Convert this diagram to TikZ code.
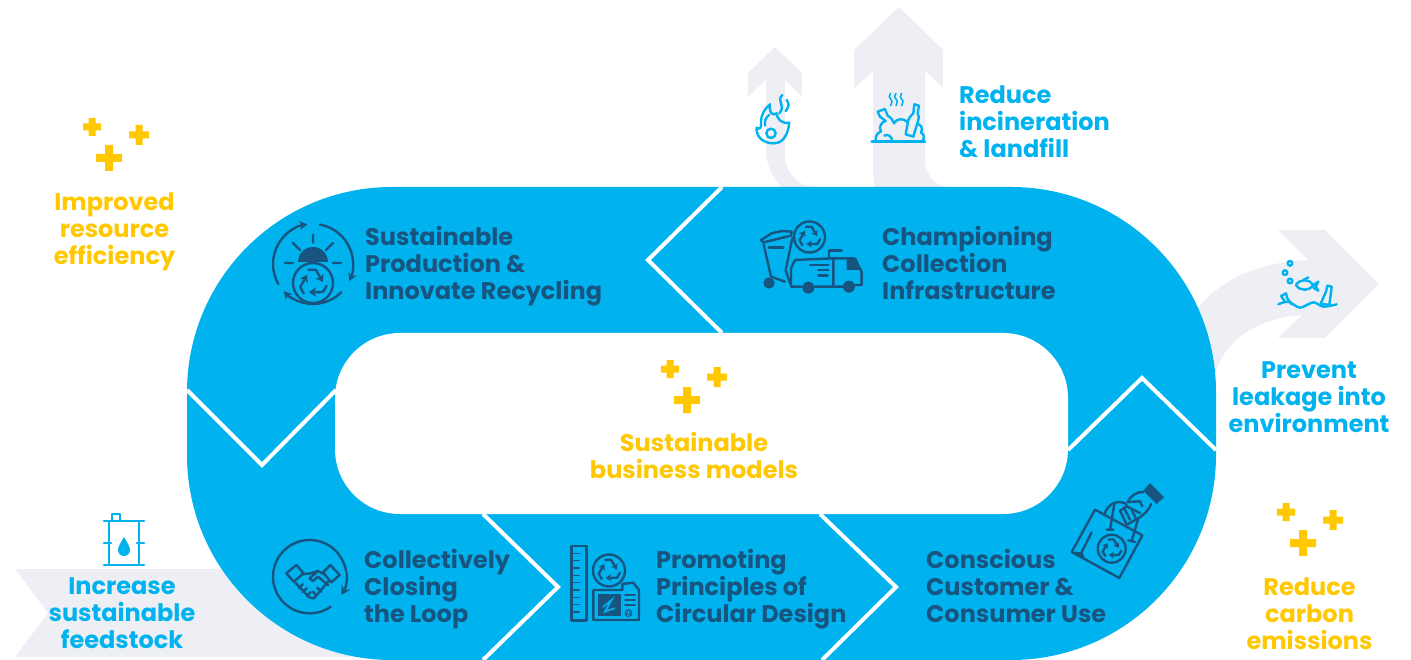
\documentclass[tikz,border=0pt]{standalone}
\usepackage{fontspec}
\setmainfont{Poppins}
\usetikzlibrary{arrows.meta}
\definecolor{loopblue}{RGB}{0,179,238}
\definecolor{inkblue}{RGB}{24,84,128}
\definecolor{sunyellow}{RGB}{255,200,0}
\definecolor{paleflow}{RGB}{238,238,245}
\tikzset{
  steplabel/.style={text=inkblue,anchor=west,align=left,inner sep=0pt,font=\fontsize{24}{27}\selectfont\bfseries},
  bluelabel/.style={text=loopblue,align=center,inner sep=0pt,font=\fontsize{24}{27}\selectfont\bfseries},
  goldlabel/.style={text=sunyellow,align=center,inner sep=0pt,font=\fontsize{24}{27}\selectfont\bfseries},
  inkicon/.style={draw=inkblue,line width=2.4pt,line join=round,line cap=round},
  blueicon/.style={draw=loopblue,line width=2.4pt,line join=round,line cap=round},
  zoomed/.style={shift={#1},scale=.3333},
  pluses/.pic={
    \fill[sunyellow] (-13,-4) rectangle (13,4) (-4,-13) rectangle (4,13);
    \fill[sunyellow] (-26,27.5) rectangle (-8,34.5) (-20.5,22) rectangle (-13.5,40);
    \fill[sunyellow] (20,19.5) rectangle (40,26.5) (26.5,13) rectangle (33.5,33);
  }
}
\newcommand{\recyc}[4]{%
  \begin{scope}[shift={(#1,#2)},scale=#3]
    \pgfmathsetlengthmacro{\tipl}{#3*.36}
    \draw[#4] (0,0) circle (1);
    \foreach \a in {0,120,240}
      \draw[#4,rotate=\a,-{Stealth[length=\tipl,width=1.3*\tipl]}] (-.22,-.66) -- (.14,-.66) -- (.5,-.05);
  \end{scope}}
\begin{document}
\begin{tikzpicture}[x=1pt,y=1pt,yscale=-1]
  \useasboundingbox (0,0) rectangle (1411,660);
  % flows behind the loop
  \fill[paleflow] (775,47) -- (802,73) -- (802,97) -- (785,80) -- (785,157) .. controls (785,172) and (798,186) .. (813,187)
    -- (781,187) .. controls (772,175) and (766,165) .. (766,150) -- (766,80) -- (748,97) -- (748,73) -- cycle;
  \fill[paleflow] (899,7) -- (943,50) -- (943,88) -- (925,71) -- (925,160) .. controls (925,175) and (935,186) .. (950,188)
    -- (875,188) -- (873,170) -- (873,71) -- (854,88) -- (854,50) -- cycle;
  \fill[paleflow] (1278,230) -- (1325,230) -- (1379,284) -- (1325,338) -- (1278,338) -- (1302,315)
    .. controls (1262,318) and (1228,335) .. (1215,373) -- (1198,308) .. controls (1225,275) and (1265,262) .. (1308,260) -- cycle;
  \fill[paleflow] (15,569) -- (360,569) -- (360,657) -- (15,657) -- (48,613) -- cycle;
  % loop
  \fill[loopblue] (392,187) -- (1011,187) arc[start angle=-90,delta angle=90,radius=205] -- (1216,455)
    arc[start angle=0,delta angle=90,radius=205] -- (392,660) arc[start angle=90,delta angle=90,radius=205]
    -- (187,392) arc[start angle=180,delta angle=90,radius=205] -- cycle;
  \fill[white,rounded corners=65pt] (335,333) rectangle (1068,514);
  \draw[white,line width=4pt] (722,187) -- (648,260) -- (722,333);
  \draw[white,line width=4pt] (187,390) -- (262,465) -- (336,390);
  \draw[white,line width=4pt] (483,514) -- (558,587) -- (483,660);
  \draw[white,line width=4pt] (820,514) -- (896,587) -- (822,660);
  \draw[white,line width=4pt] (1068,450) -- (1142,378) -- (1216,450);
  % labels
  \node[steplabel] (production) at (365,266) {Sustainable\\Production \&\\Innovate Recycling};
  \node[steplabel] (collection) at (882,263) {Championing\\Collection\\Infrastructure};
  \node[steplabel] (closing) at (364,589) {Collectively\\Closing\\the Loop};
  \node[steplabel] (design) at (656,589) {Promoting\\Principles of\\Circular Design};
  \node[steplabel] (consumer) at (926,586) {Conscious\\Customer \&\\Consumer Use};
  \node[goldlabel] (efficiency) at (114.5,232) {Improved\\resource\\efficiency};
  \node[goldlabel] (models) at (694,455.5) {Sustainable\\business models};
  \node[goldlabel] (carbon) at (1309.5,613.5) {Reduce\\carbon\\emissions};
  \node[bluelabel] (feedstock) at (122,613.5) {Increase\\sustainable\\feedstock};
  \node[bluelabel] (leakage) at (1309,397.5) {Prevent\\leakage into\\environment};
  \node[bluelabel,anchor=west,align=left] (landfill) at (959,121.5) {Reduce\\incineration\\\& landfill};
  \pic at (109,158) {pluses};
  \pic at (687,400) {pluses};
  \pic at (1303,543) {pluses};
  % flame and landfill
  \begin{scope}[zoomed={(745,85)}]
    \draw[blueicon] (85,175) .. controls (55,175) and (32,155) .. (35,128) .. controls (45,135) and (50,130) .. (48,112)
      .. controls (47,90) and (60,70) .. (75,58) .. controls (72,80) and (80,95) .. (95,85)
      .. controls (95,100) and (110,118) .. (133,113) .. controls (128,150) and (115,175) .. (85,175) -- cycle;
    \draw[blueicon] (78,145) circle (14);
    \draw[blueicon] (60,122) .. controls (58,108) and (62,98) .. (72,90);
    \draw[blueicon] (112,30) .. controls (92,50) and (125,60) .. (103,85);
    \draw[blueicon] (125,45) .. controls (135,58) and (130,68) .. (122,78);
    \draw[blueicon] (380,170) -- (540,170);
    \draw[blueicon] (392,168) .. controls (390,150) and (400,142) .. (408,140) .. controls (400,125) and (410,110) .. (422,108)
      -- (405,95) -- (398,80) -- (420,72) -- (428,92) .. controls (440,98) and (445,110) .. (447,115)
      .. controls (455,100) and (475,98) .. (488,112);
    \draw[blueicon] (508,58) -- (522,62) -- (518,85) .. controls (522,92) and (522,98) .. (520,105) -- (505,155) -- (482,148)
      -- (490,105) .. controls (492,98) and (498,92) .. (505,85) -- cycle;
    \draw[blueicon] (522,118) .. controls (535,125) and (530,140) .. (528,142) .. controls (540,150) and (538,162) .. (532,168);
    \draw[blueicon] (418,152) .. controls (430,145) and (440,155) .. (442,168);
    \foreach \x in {437,453,470}
      \draw[blueicon,line width=1.6pt] plot[smooth] coordinates {(\x,25) (\x-4,36) (\x+4,48) (\x,62)};
  \end{scope}
  % truck and bin
  \begin{scope}[zoomed={(755,215)}]
    \draw[inkicon] (18,75) -- (50,55) -- (80,48) -- (110,50) -- (108,62) -- (25,82) -- cycle;
    \draw[inkicon] (26,88) -- (48,185) -- (90,200) (112,70) -- (92,165) -- (105,205);
    \draw[inkicon] (42,98) -- (85,98);
    \fill[inkblue] (42,204) circle (17);
    \draw[inkicon] (120,135) -- (235,130) -- (235,215) -- (180,215) (120,135) -- (108,160) -- (108,215) -- (140,215);
    \draw[inkicon] (235,130) -- (295,130) -- (320,170) -- (320,210) -- (300,210) (265,215) -- (235,215);
    \draw[inkicon] (222,107) -- (260,107) (222,107) -- (222,130);
    \fill[inkblue] (275,128) -- (303,128) -- (320,165) -- (275,165) -- cycle;
    \fill[inkblue] (160,218) circle (18) (282,215) circle (18);
    \draw[inkicon] (165,150) -- (220,150) (190,165) -- (220,165) (190,182) -- (218,182);
  \end{scope}
  \recyc{809.5}{237}{15.5}{inkicon}
  % sun and recycling
  \begin{scope}[shift={(313,264)}]
    \foreach \a/\d in {-80/105,45/92,150/112}
      \draw[inkicon,-{Stealth[length=8pt,width=9pt]}] (\a:40) arc[start angle=\a,delta angle=\d,radius=40];
    \draw[inkicon] (0,-29) -- (0,-21) (-20,-21) -- (-13,-14) (20,-21) -- (13,-14) (-28,-1) -- (-20,-1) (20,-1) -- (28,-1);
    \fill[inkblue] (-15,-2) arc[start angle=180,delta angle=180,radius=15] -- cycle;
  \end{scope}
  \recyc{313}{283}{20}{inkicon}
  % handshake
  \begin{scope}[zoomed={(268,535)}]
    \draw[inkicon,-{Stealth[length=9pt,width=10pt]}] ([shift={(55:110)}]125,125) arc[start angle=55,delta angle=335,radius=110];
    \draw[inkicon] (55,115) -- (85,90) -- (107,115) -- (77,140) -- cycle;
    \draw[inkicon] (165,112) -- (187,90) -- (215,120) -- (190,142) -- cycle;
    \draw[inkicon] (100,118) -- (128,115) -- (150,108) -- (168,118) (150,108) -- (125,130) -- (135,138) -- (150,125) -- (180,150);
    \draw[inkicon] (82,143) -- (125,188) -- (138,190) -- (182,138);
    \draw[inkicon] (92,160) -- (104,148) (104,172) -- (116,160) (116,184) -- (128,172) (145,182) -- (135,170) (160,170) -- (148,158);
  \end{scope}
  % ruler and blueprint
  \begin{scope}[zoomed={(565,540)}]
    \draw[inkicon] (20,18) rectangle (65,242);
    \foreach \y in {40,62,84,106,128,150,172,194,216}
      \draw[inkicon,line width=1.6pt] (22,\y) -- (42,\y);
    \draw[inkicon] (85,150) -- (172,150) -- (172,132) -- (205,128) -- (222,150) -- (222,240) -- (85,240) -- cycle;
    \fill[inkblue] (98,163) rectangle (168,228);
    \draw[loopblue,line width=1.8pt,line cap=round] (115,200) -- (140,180) -- (120,215) -- (148,205);
    \draw[inkicon,line width=1.6pt] (180,165) -- (210,165) (180,180) -- (210,180) (180,195) -- (210,195);
  \end{scope}
  \recyc{609}{570.5}{16}{inkicon}
  \recyc{628.5}{613}{3.5}{inkicon,line width=.8pt}
  % bag and hand
  \begin{scope}[zoomed={(1065,478)}]
    \draw[inkicon] (90,95) -- (232,172) -- (163,300) -- (20,222) -- cycle;
    \fill[inkblue] (20,222) -- (52,222) -- (60,242) -- cycle;
    \draw[inkicon] (80,163) -- (50,222);
    \draw[inkicon] (118,112) .. controls (125,75) and (165,62) .. (185,80);
    \draw[inkicon] (148,78) -- (135,155) (125,155) -- (145,155);
    \draw[inkicon] (220,120) -- (200,190) (190,187) -- (210,192);
    \fill[inkblue] (255,15) -- (297,58) -- (275,78) -- (235,38) -- cycle;
    \draw[inkicon] (235,42) .. controls (215,40) and (195,55) .. (188,72) -- (225,70) -- (232,85)
      (258,78) .. controls (250,100) and (235,110) .. (222,120) -- (185,140) -- (165,98) -- (185,85) -- (225,105);
    \draw[inkicon] (178,92) -- (195,125) (200,95) -- (212,120);
  \end{scope}
  \recyc{1111.7}{548.7}{14}{inkicon}
  % fish and debris
  \begin{scope}[zoomed={(1270,255)}]
    \draw[blueicon] (60,25) circle (7) (45,53) circle (7) (60,78) circle (7);
    \draw[blueicon] (78,90) .. controls (90,70) and (120,72) .. (130,90) .. controls (120,108) and (90,110) .. (78,90) -- cycle;
    \draw[blueicon] (130,90) -- (145,80) -- (137,95) -- (145,107) -- (130,98);
    \draw[blueicon] (100,75) -- (115,67);
    \draw[blueicon] plot[smooth] coordinates {(25,148) (55,140) (90,158) (130,142) (160,155) (200,148)};
    \draw[blueicon] (172,92) -- (185,95) -- (183,112) -- (178,150) -- (152,146) -- (168,110) -- cycle;
    \draw[blueicon] (33,123) -- (48,115) -- (52,130) -- (65,148) (33,123) -- (45,140);
  \end{scope}
  % barrel
  \draw[blueicon] (104,521) -- (144,521) (104,565) -- (144,565) (109,521) -- (109,565) (139,521) -- (139,565)
    (104,543) -- (111,543) (137,543) -- (144,543) (112,521) -- (112,514) -- (120,514) -- (120,521);
  \fill[loopblue] (124,537) .. controls (120,544) and (118,547) .. (118,550) arc[start angle=180,delta angle=-180,radius=6] .. controls (130,547) and (128,544) .. (124,537) -- cycle;
\end{tikzpicture}
\end{document}
